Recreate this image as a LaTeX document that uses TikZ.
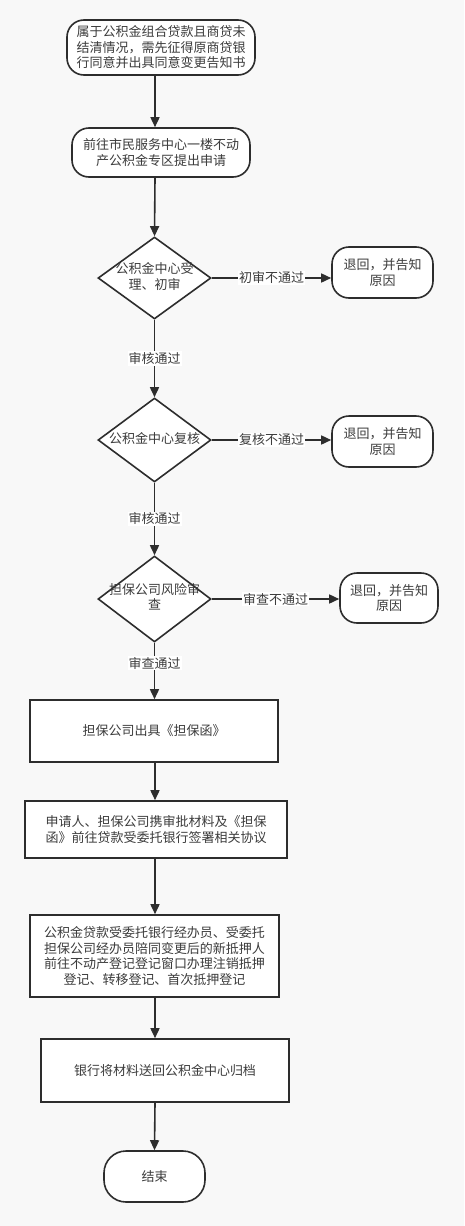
\documentclass[tikz,border=0pt]{standalone}
\usepackage{fontspec}
\setmainfont{Noto Sans CJK SC}
\usetikzlibrary{shapes.geometric,arrows.meta}
\definecolor{bg}{RGB}{248,248,248}
\definecolor{ln}{RGB}{45,45,45}
\definecolor{tx}{RGB}{60,60,60}
\newcommand{\dtext}[1]{\makebox[0pt][c]{\begin{tabular}{@{}c@{}}#1\end{tabular}}}
\begin{document}
\begin{tikzpicture}[x=1pt,y=-1pt,
  base/.style={draw=ln, line width=1.6pt, fill=white, text=tx,
    font=\fontsize{13}{15.5}\selectfont, align=center, inner sep=0pt},
  roundbox/.style={base, rounded corners=17pt},
  diam/.style={base, diamond, aspect=1.35},
  sqbox/.style={base},
  arr/.style={draw=ln, line width=1.6pt, -{Triangle[length=10pt,width=9pt]}},
  lbl/.style={fill=white, text=tx, font=\fontsize{13}{15.5}\selectfont, inner sep=1pt}
]
\fill[bg] (0,0) rectangle (464,1226);
\coordinate (X) at (155,0);

\node[roundbox, minimum width=188pt, minimum height=55pt] (n1) at (161,47.5)
  {属于公积金组合贷款且商贷未\\结清情况，需先征得原商贷银\\行同意并出具同意变更告知书};
\node[roundbox, minimum width=178pt, minimum height=49pt] (n2) at (161,152.5)
  {前往市民服务中心一楼不动\\产公积金专区提出申请};
\node[diam, minimum width=113pt, minimum height=82pt] (d1) at (154.5,278)
  {\dtext{公积金中心受\\理、初审}};
\node[roundbox, minimum width=101pt, minimum height=51pt] (r1) at (382.5,272.5)
  {退回，并告知\\原因};
\node[diam, minimum width=113pt, minimum height=84pt] (d2) at (154.5,440)
  {\dtext{公积金中心复核}};
\node[roundbox, minimum width=101pt, minimum height=51pt] (r2) at (382.5,441.5)
  {退回，并告知\\原因};
\node[diam, minimum width=113pt, minimum height=86pt] (d3) at (154.5,599)
  {\dtext{担保公司风险审\\查}};
\node[roundbox, minimum width=98pt, minimum height=50pt] (r3) at (389,598)
  {退回，并告知\\原因};
\node[sqbox, minimum width=248pt, minimum height=62pt] (b1) at (154,731)
  {担保公司出具《担保函》};
\node[sqbox, minimum width=262pt, minimum height=57pt] (b2) at (156,829.5)
  {申请人、担保公司携审批材料及《担保\\函》前往贷款受委托银行签署相关协议};
\node[sqbox, minimum width=249pt, minimum height=82pt] (b3) at (154.5,956)
  {公积金贷款受委托银行经办员、受委托\\担保公司经办员陪同变更后的新抵押人\\前往不动产登记登记窗口办理注销抵押\\登记、转移登记、首次抵押登记};
\node[sqbox, minimum width=248pt, minimum height=63pt] (b4) at (165,1070.5)
  {银行将材料送回公积金中心归档};
\node[roundbox, rounded corners=22pt, minimum width=101pt, minimum height=51pt] (e) at (154.5,1176.5)
  {结束};

\draw[arr] (n1.south -| X) -- (n2.north -| X);
\draw[arr] (n2.south -| X) -- (d1.north);
\draw[arr] (d1.south) -- node[lbl]{审核通过} (d2.north);
\draw[arr] (d2.south) -- node[lbl]{审核通过} (d3.north);
\draw[arr] (d3.south) -- node[lbl, pos=0.36]{审查通过} (b1.north -| d3.south);
\draw[arr] (b1.south -| X) -- (b2.north -| X);
\draw[arr] (b2.south -| X) -- (b3.north -| X);
\draw[arr] (b3.south -| X) -- (b4.north -| X);
\draw[arr] (b4.south -| X) -- (e.north);
\draw[arr] (d1.east) -- node[lbl]{初审不通过} (d1.east -| r1.west);
\draw[arr] (d2.east) -- node[lbl]{复核不通过} (d2.east -| r2.west);
\draw[arr] (d3.east) -- node[lbl]{审查不通过} (d3.east -| r3.west);
\end{tikzpicture}
\end{document}
